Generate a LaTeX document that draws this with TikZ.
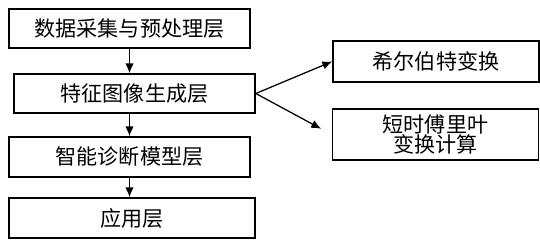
\documentclass[tikz,border=0pt]{standalone}
\usepackage{fontspec}
\setmainfont{Noto Sans CJK SC}
\usetikzlibrary{arrows.meta, positioning}

\begin{document}
\begin{tikzpicture}[
  x=0.025cm, y=-0.025cm,
  layer/.style={rectangle, draw, line width=1.1pt, minimum width=6.025cm, minimum height=0.975cm, font=\fontsize{15}{18}\selectfont},
  method/.style={rectangle, draw, line width=1.1pt, minimum width=5.15cm, align=center, font=\fontsize{15}{17}\selectfont},
  arrow/.style={-{Latex[length=7pt, width=6pt]}, line width=0.9pt}
]
\useasboundingbox (0,0) rectangle (540,240);

\node[layer] (acquire) at (129.5, 28.5) {数据采集与预处理层};
\node[layer] (feature) at (134.5, 93.5) {特征图像生成层};
\node[layer, minimum height=1cm] (model) at (129.5, 157) {智能诊断模型层};
\node[layer, minimum height=1cm, minimum width=6.15cm] (app) at (132, 218) {应用层};
\node[method, minimum height=1.025cm] (hilbert) at (436, 61.5) {希尔伯特变换};
\node[method, minimum height=1.275cm] (stft) at (435.5, 134.5) {短时傅里叶\\[-3pt]变换计算};

\draw[arrow] (acquire.south) -- (acquire.south |- feature.north);
\draw[arrow] (acquire.south |- feature.south) -- (acquire.south |- model.north);
\draw[arrow] (model.south) -- (model.south |- app.north);
\draw[arrow] (feature.east) -- (hilbert.west);
\draw[arrow, shorten >=0.3cm] (feature.east) -- (stft.west);

\end{tikzpicture}
\end{document}
